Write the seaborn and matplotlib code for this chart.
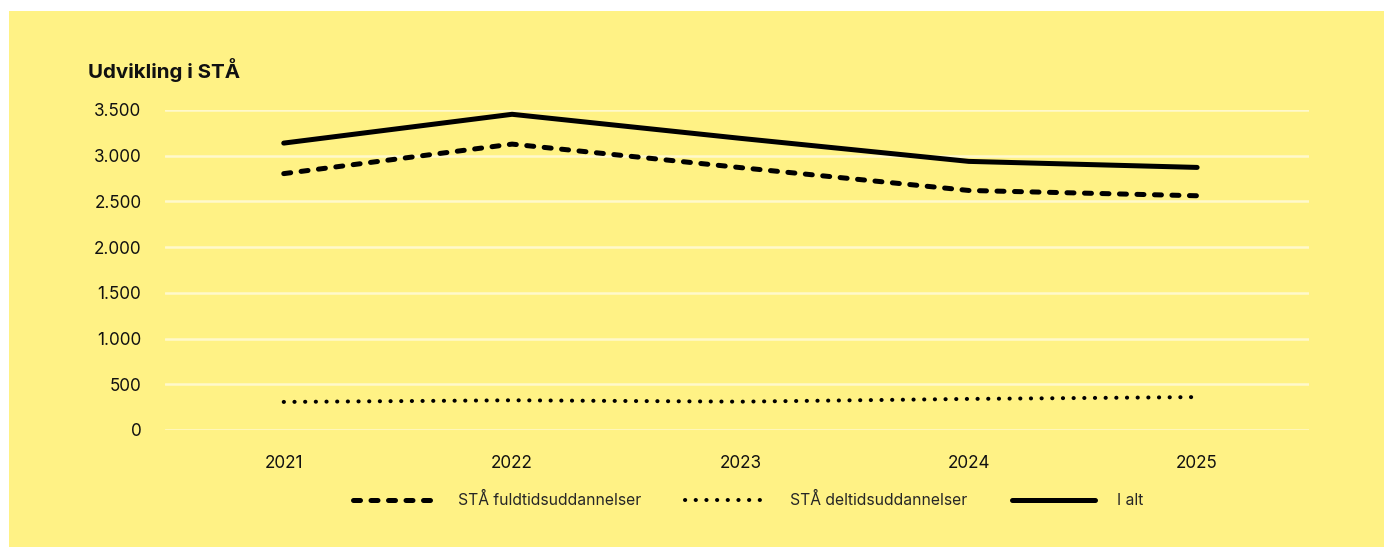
import matplotlib
matplotlib.use("Agg")
import matplotlib.pyplot as plt
import numpy as np
import pandas as pd
import seaborn as sns

# data
years = ['2021', '2022', '2023', '2024', '2025']
fuldtid = [2804, 3127, 2870, 2620, 2562]
deltid = [307, 325, 310, 340, 360]
i_alt = [3138, 3453, 3190, 2938, 2872]
serier = ['STÅ fuldtidsuddannelser', 'STÅ deltidsuddannelser', 'I alt']
yticks = [0, 500, 1000, 1500, 2000, 2500, 3000, 3500]

gul = '#FFF285'

df = pd.DataFrame({'år': years * 3,
                   'STÅ': fuldtid + deltid + i_alt,
                   'serie': [serier[0]] * 5 + [serier[1]] * 5 + [serier[2]] * 5})

sns.set_style('white')
plt.rcParams['font.family'] = ['Inter', 'DejaVu Sans']

fig = plt.figure(figsize=(13.84, 5.47), dpi=100, facecolor='white')
# gul baggrund (lille hvid kant øverst/venstre som i originalen)
fig.add_artist(plt.Rectangle((9 / 1384, 0), 1, 1 - 11 / 547, transform=fig.transFigure,
                             facecolor=gul, edgecolor='none', zorder=-10))
ax = fig.add_axes([165 / 1384, (547 - 430) / 547, (1309 - 165) / 1384, 320 / 547])
ax.set_facecolor(gul)

sns.lineplot(data=df, x='år', y='STÅ', hue='serie', style='serie', ax=ax,
             palette=['black'] * 3, hue_order=serier, style_order=serier,
             dashes={serier[0]: (1.4, 2.1), serier[1]: (0.05, 2.6), serier[2]: ''},
             sort=False, legend=True)

lws = [3.6, 2.9, 3.6]
for line, lw in zip(ax.lines[:3], lws):
    line.set_linewidth(lw)
    line.set_dash_capstyle('round')
    line.set_solid_capstyle('round')

ax.set_xlim(-0.52, 4.49)
ax.set_ylim(0, 3500)
ax.set_yticks(yticks)
ax.set_yticklabels([f'{v:,}'.replace(',', '.') for v in yticks])
ax.grid(axis='y', color='#FFF9CC', linewidth=1.8)
ax.set_axisbelow(True)
for s in ax.spines.values():
    s.set_visible(False)
ax.tick_params(axis='both', length=0, labelsize=12.3, labelcolor='#111111')
ax.tick_params(axis='y', pad=17)
ax.tick_params(axis='x', pad=18)
ax.set_xlabel('')
ax.set_ylabel('')

fig.text(88 / 1384, 1 - 70 / 547, 'Udvikling i STÅ', fontsize=14.8, fontweight='bold',
         va='center', ha='left', color='#111111')

handles, labels = ax.get_legend_handles_labels()
for h, lw in zip(handles, lws):
    h.set_linewidth(lw)
    h.set_dash_capstyle('round')
    h.set_solid_capstyle('round')
ax.legend(handles, labels, loc='center', bbox_to_anchor=(748 / 1384, 1 - 500 / 547),
          bbox_transform=fig.transFigure, ncol=3, frameon=False, fontsize=11.3,
          handlelength=5.3, handletextpad=1.4, columnspacing=2.8)

fig.savefig('out.png', dpi=100, facecolor='white')
